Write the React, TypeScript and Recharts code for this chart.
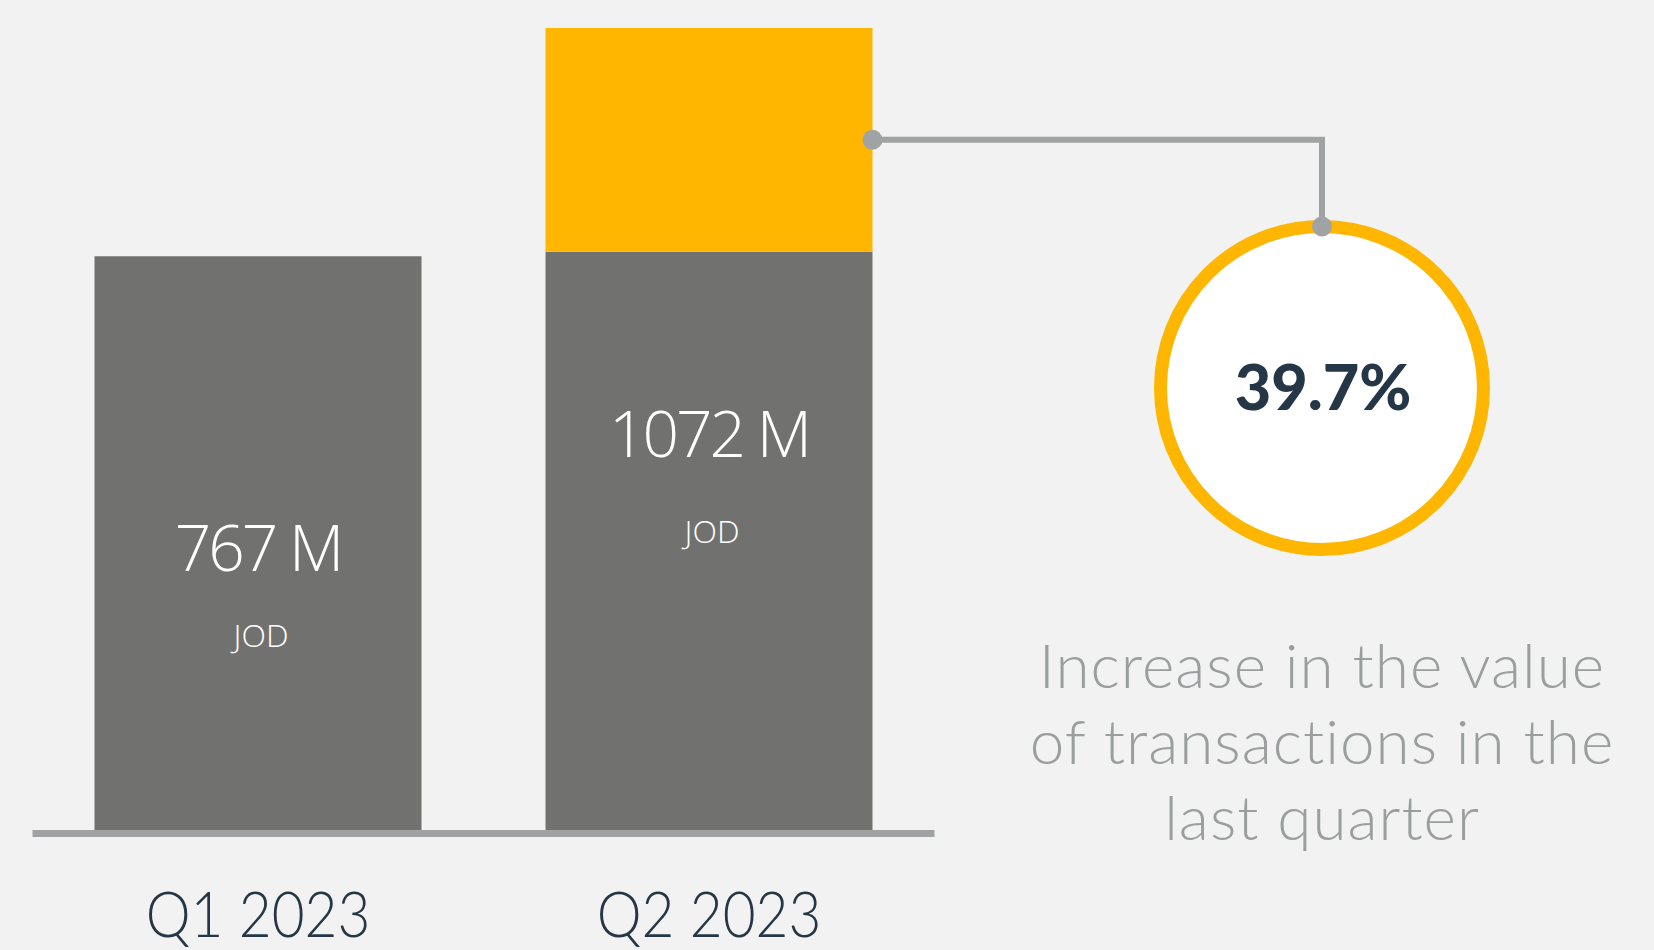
import React from 'react';
import { ComposedChart, Bar, XAxis, YAxis, LabelList } from 'recharts';

const categories = ['Q1 2023', 'Q2 2023'];
const baseValues = [767, 773];
const increaseValues = [0, 299];
const totalValues = [767, 1072];
const unitLabel = 'JOD';
const changeLabel = '39.7%';
const noteLines = ['Increase in the value', 'of transactions in the', 'last quarter'];

const data = categories.map((c, i) => ({
  name: c,
  base: baseValues[i],
  increase: increaseValues[i],
  total: totalValues[i],
}));

const BG = '#F2F2F2';
const GRAY = '#717270';
const YELLOW = '#FFB600';
const LINE = '#A0A3A3';
const NAVY = '#253746';
const NOTE = '#9B9E9E';

const CX = 1322;
const CY = 388;
const R = 161.5;

const CategoryTick = (props: any) => {
  const { x, y, payload } = props;
  return (
    <g transform={`translate(${x},${y + 99}) scale(0.9,1)`}>
      <text x={0} y={0} textAnchor="middle" fill={NAVY} fontFamily="Lato" fontWeight={300} fontSize={63}>
        {payload.value}
      </text>
    </g>
  );
};

const ValueLabel = (props: any) => {
  const { x, y, width, height, index } = props;
  const d = data[index];
  const bottom = y + height;
  const fullH = (height * d.total) / d.base;
  const mid = bottom - fullH / 2;
  const cx = x + width / 2;
  return (
    <g>
      <text x={cx} y={mid + 28} textAnchor="middle" fill="#FFFFFF" fontFamily="Open Sans" fontWeight={300} fontSize={64} letterSpacing={-3}>
        {`${d.total} M`}
      </text>
      <text x={cx + 3} y={mid + (index === 0 ? 104 : 114)} textAnchor="middle" fill="#FFFFFF" fontFamily="Open Sans" fontWeight={300} fontSize={32}>
        {unitLabel}
      </text>
    </g>
  );
};

const Callout = (props: any) => {
  const { x, y, width, height, value } = props;
  if (!value || !(Number(value) > 0)) return null;
  const sx = x + width;
  const sy = y + height / 2;
  const topY = CY - R;
  return (
    <g>
      <polyline points={`${sx},${sy} ${CX},${sy} ${CX},${topY}`} fill="none" stroke={LINE} strokeWidth={6} />
      <circle cx={CX} cy={CY} r={R} fill="#FFFFFF" stroke={YELLOW} strokeWidth={13} />
      <circle cx={sx} cy={sy} r={10} fill={LINE} />
      <circle cx={CX} cy={topY} r={10} fill={LINE} />
      <text x={CX + 1} y={410} textAnchor="middle" fill={NAVY} fontFamily="Lato" fontWeight={900} fontSize={63}>
        {changeLabel}
      </text>
      {noteLines.map((t, i) => (
        <text key={i} x={CX} y={688 + i * 76} textAnchor="middle" fill={NOTE} fontFamily="Lato" fontWeight={300} fontSize={62} letterSpacing={1}>
          {t}
        </text>
      ))}
    </g>
  );
};

export default function App() {
  return (
    <div style={{ position: 'absolute', left: 0, top: 0, width: 1654, height: 950, background: BG }}>
      <ComposedChart
        width={1654}
        height={950}
        data={data}
        margin={{ top: 7, right: 719.5, left: 32.5, bottom: 0 }}
        barSize={327}
      >
        <XAxis
          dataKey="name"
          height={120}
          tickLine={false}
          axisLine={{ stroke: LINE, strokeWidth: 7, transform: 'translate(0,3.5)' }}
          tick={<CategoryTick />}
          interval={0}
        />
        <YAxis hide domain={[0, 1100]} />
        <Bar dataKey="base" stackId="a" fill={GRAY} isAnimationActive={false}>
          <LabelList dataKey="base" content={<ValueLabel />} />
        </Bar>
        <Bar dataKey="increase" stackId="a" fill={YELLOW} isAnimationActive={false}>
          <LabelList dataKey="increase" content={<Callout />} />
        </Bar>
      </ComposedChart>
    </div>
  );
}
